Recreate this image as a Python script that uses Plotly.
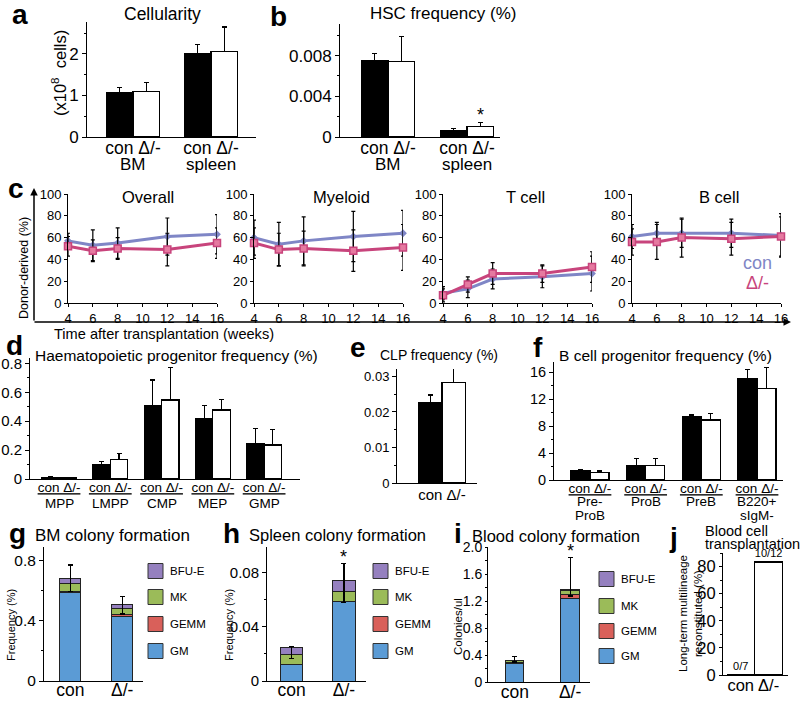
import numpy as np
import plotly.graph_objects as go

W, H = 800, 701
FONT = "Liberation Sans, Arial, sans-serif"
BLUE = "#7f86c6"
MAG = "#c8447c"

# a: cellularity (x10^8 cells)
cell_groups = ["BM", "spleen"]
cell_con = [1.07, 2.01]
cell_con_err = [0.13, 0.22]
cell_ko = [1.09, 2.05]
cell_ko_err = [0.22, 0.60]

# b: HSC frequency (%)
hsc_con = [0.0075, 0.0006]
hsc_con_err = [0.0007, 0.0002]
hsc_ko = [0.0074, 0.0010]
hsc_ko_err = [0.0025, 0.0004]

# c: donor-derived (%)
weeks = [4, 6, 8, 12, 16]
overall_con = [57, 53, 55, 61, 63]
overall_con_err = [7, 14, 14, 17, 18]
overall_ko = [52, 48, 50, 49, 55]
overall_ko_err = [9, 10, 10, 15, 14]
myeloid_con = [60, 54, 57, 61, 64]
myeloid_con_err = [16, 20, 22, 23, 21]
myeloid_ko = [55, 49, 50, 48, 51]
myeloid_ko_err = [14, 15, 16, 19, 21]
tcell_con = [9, 13, 22, 24, 27]
tcell_con_err = [6, 8, 9, 10, 16]
tcell_ko = [7, 17, 27, 27, 33]
tcell_ko_err = [6, 7, 10, 8, 14]
bcell_con = [61, 64, 64, 64, 62]
bcell_con_err = [11, 10, 13, 13, 20]
bcell_ko = [56, 56, 60, 59, 61]
bcell_ko_err = [12, 16, 18, 15, 18]
lineages = ["Overall", "Myeloid", "T cell", "B cell"]

# d: haematopoietic progenitors (%)
prog_groups = ["MPP", "LMPP", "CMP", "MEP", "GMP"]
prog_con = [0.012, 0.097, 0.505, 0.415, 0.244]
prog_con_err = [0.004, 0.023, 0.18, 0.095, 0.104]
prog_ko = [0.010, 0.136, 0.546, 0.477, 0.235]
prog_ko_err = [0.003, 0.042, 0.226, 0.073, 0.11]

# e: CLP frequency (%)
clp_con = [0.0226]
clp_con_err = [0.0022]
clp_ko = [0.0283]
clp_ko_err = [0.0040]

# f: B cell progenitors (%)
bprog_groups = ["Pre-<br>ProB", "ProB", "PreB", "B220+<br>sIgM-"]
bprog_con = [1.4, 2.2, 9.4, 15.0]
bprog_con_err = [0.15, 1.0, 0.25, 1.4]
bprog_ko = [1.15, 2.2, 8.9, 13.6]
bprog_ko_err = [0.2, 1.0, 1.0, 3.1]

# g-i: colony formation, stacked GM / GEMM / MK / BFU-E
genotypes = ["con", "Δ/-"]
colony_types = ["GM", "GEMM", "MK", "BFU-E"]
colony_colors = ["#5b9bd5", "#d9605a", "#9bbb59", "#9580bf"]
bm_gm = [0.59, 0.433]
bm_gemm = [0.005, 0.008]
bm_mk = [0.052, 0.044]
bm_bfue = [0.038, 0.022]
bm_err = [0.088, 0.055]
bm_err_lo = [0.088, 0.06]
spleen_gm = [0.0121, 0.0585]
spleen_gemm = [0.0004, 0.0005]
spleen_mk = [0.0073, 0.007]
spleen_bfue = [0.0047, 0.0081]
spleen_err = [0.0012, 0.013]
spleen_err_lo = [0.008, 0.016]
blood_gm = [0.28, 1.244]
blood_gemm = [0.015, 0.056]
blood_mk = [0.025, 0.06]
blood_bfue = [0.005, 0.005]
blood_err = [0.055, 0.485]
blood_err_lo = [0.03, 0.09]

# j: blood cell transplantation
transplant_pct = [0, 83.3]
transplant_ratio = ["0/7", "10/12"]


def X(p):
    return p / W


def Y(p):
    return 1 - p / H


fig = go.Figure()
layout = {}
annotations = []
shapes = []


def sfx(n):
    return "" if n == 1 else str(n)


def tf(size):
    return dict(size=size, color="black", family=FONT)


def set_axes(n, left, right, top, bottom, xr, yr, xkw=None, ykw=None):
    s = sfx(n)
    base = dict(showline=True, linecolor="black", linewidth=1, showgrid=False,
                zeroline=False, tickcolor="black", ticklen=4, ticks="outside",
                automargin=False, tickfont=tf(13))
    xd = dict(base, domain=[X(left), X(right)], range=xr, anchor="y" + s)
    xd.update(xkw or {})
    yd = dict(base, domain=[Y(bottom), Y(top)], range=yr, anchor="x" + s)
    yd.update(ykw or {})
    layout["xaxis" + s] = xd
    layout["yaxis" + s] = yd


def text(t, x, y, size=14, anchor="center", bold=False, color="black", angle=0):
    if bold:
        t = "<b>" + t + "</b>"
    annotations.append(dict(text=t, x=X(x), y=Y(y), xref="paper", yref="paper",
                            showarrow=False, xanchor=anchor, yanchor="middle",
                            textangle=angle, font=dict(size=size, color=color, family=FONT)))


def cat_labels(n, names, y0, size, gap):
    # group names under the "con Δ/-" tick labels, placed at the category positions
    for i, name in enumerate(names):
        for j, line in enumerate(name.split("<br>")):
            annotations.append(dict(text=line, x=i, y=Y(y0 + j * gap), xref="x" + sfx(n),
                                    yref="paper", showarrow=False, yanchor="middle",
                                    font=tf(size)))


def err(arr, lo=None):
    d = dict(type="data", array=arr, color="black", thickness=1.2, width=2.5,
             symmetric=False, arrayminus=lo if lo is not None else [0] * len(arr))
    return d


def grouped(n, con, con_e, ko, ko_e, w):
    idx = np.arange(len(con))
    s = sfx(n)
    fig.add_trace(go.Bar(x=idx - w / 2, y=con, width=w, marker_color="black",
                         marker_line=dict(color="black", width=1.2), error_y=err(con_e),
                         xaxis="x" + s, yaxis="y" + s, cliponaxis=False))
    fig.add_trace(go.Bar(x=idx + w / 2, y=ko, width=w, marker_color="white",
                         marker_line=dict(color="black", width=1.2), error_y=err(ko_e),
                         xaxis="x" + s, yaxis="y" + s, cliponaxis=False))


def stacked(n, parts, top_err, top_err_lo, w):
    s = sfx(n)
    for k, (name, vals) in enumerate(zip(colony_types, parts)):
        fig.add_trace(go.Bar(x=[0, 1], y=vals, width=w, name=name,
                             marker_color=colony_colors[k],
                             marker_line=dict(color="#222", width=1),
                             error_y=err(top_err, top_err_lo) if k == len(parts) - 1 else None,
                             xaxis="x" + s, yaxis="y" + s, cliponaxis=False))


def minor(step):
    return dict(dtick=step, ticks="outside", ticklen=2, tickcolor="black")


# ---- a ----
w_ab = 0.34
grouped(1, cell_con, cell_con_err, cell_ko, cell_ko_err, w_ab)
set_axes(1, 87, 256, 22, 137, [-0.59, 1.577], [0, 2.77],
         dict(tickvals=[0, 1], ticktext=["con Δ/-"] * 2, ticks="", ticklabelstandoff=-5,
              tickfont=tf(17.5)),
         dict(tickvals=[0, 1, 2], minor=minor(0.5), tickfont=tf(17)))
cat_labels(1, cell_groups, 164, 17, 0)

# ---- b ----
grouped(2, hsc_con, hsc_con_err, hsc_ko, hsc_ko_err, w_ab)
set_axes(2, 340, 500, 24, 137, [-0.608, 1.418], [0, 0.0111],
         dict(tickvals=[0, 1], ticktext=["con Δ/-"] * 2, ticks="", ticklabelstandoff=-5,
              tickfont=tf(17.5)),
         dict(tickvals=[0, 0.004, 0.008], ticktext=["0", "0.004", "0.008"],
              minor=minor(0.002), tickfont=tf(17)))
cat_labels(2, cell_groups, 164, 17, 0)
annotations.append(dict(text="*", x=1 + w_ab / 2, y=hsc_ko[1] + hsc_ko_err[1], xref="x2", yref="y2",
                        showarrow=False, yanchor="bottom", yshift=-4, font=tf(18)))

# ---- c ----
c_series = [
    (overall_con, overall_con_err, overall_ko, overall_ko_err),
    (myeloid_con, myeloid_con_err, myeloid_ko, myeloid_ko_err),
    (tcell_con, tcell_con_err, tcell_ko, tcell_ko_err),
    (bcell_con, bcell_con_err, bcell_ko, bcell_ko_err),
]
c_lefts = [68, 254, 443, 632]
c_title_x = [148, 341, 525, 719]
for k, (con, con_e, ko, ko_e) in enumerate(c_series):
    n = 3 + k
    s = sfx(n)
    fig.add_trace(go.Scatter(x=weeks, y=con, mode="lines+markers",
                             line=dict(color=BLUE, width=3),
                             marker=dict(symbol="diamond", size=6, color=BLUE),
                             error_y=dict(type="data", array=con_e, color="black", thickness=1.2, width=2),
                             xaxis="x" + s, yaxis="y" + s, cliponaxis=False))
    fig.add_trace(go.Scatter(x=weeks, y=ko, mode="lines+markers",
                             line=dict(color=MAG, width=3),
                             marker=dict(symbol="square", size=7, color="#e57aa0",
                                         line=dict(color=MAG, width=1.5)),
                             error_y=dict(type="data", array=ko_e, color="black", thickness=1.2, width=2),
                             xaxis="x" + s, yaxis="y" + s, cliponaxis=False))
    set_axes(n, c_lefts[k], c_lefts[k] + 149, 194, 303, [4, 16], [0, 100],
             dict(tickvals=list(range(4, 17, 2)), ticklen=3),
             dict(dtick=20, ticklen=3))
    text(lineages[k], c_title_x[k], 197, 16.5)

text("con", 757, 263, 18, color=BLUE)
text("Δ/-", 757, 283, 18, color=MAG)
annotations.append(dict(x=X(34), y=Y(188), ax=0, ay=322 - 188, xref="paper", yref="paper",
                        axref="pixel", ayref="pixel", text="", showarrow=True,
                        arrowhead=2, arrowsize=1, arrowwidth=1.5, arrowcolor="black"))
annotations.append(dict(x=X(791), y=Y(322), ax=-(791 - 33), ay=0, xref="paper", yref="paper",
                        axref="pixel", ayref="pixel", text="", showarrow=True,
                        arrowhead=2, arrowsize=1, arrowwidth=1.5, arrowcolor="black"))
text("Donor-derived (%)", 24, 268, 12.5, angle=-90)
text("Time after transplantation (weeks)", 52, 334, 14.6, anchor="left")

# ---- d ----
w_d = 0.34
grouped(7, prog_con, prog_con_err, prog_ko, prog_ko_err, w_d)
set_axes(7, 30, 300, 358, 479, [-0.566, 4.70], [0, 0.837],
         dict(tickvals=list(range(len(prog_groups))), ticktext=["<u>con Δ/-</u>"] * len(prog_groups),
              ticks="", ticklabelstandoff=-4, tickfont=tf(13.5)),
         dict(tickvals=[0, 0.2, 0.4, 0.6, 0.8], ticktext=["0", "0.2", "0.4", "0.6", "0.8"],
              minor=minor(0.1), tickfont=tf(15)))
cat_labels(7, prog_groups, 503, 13.5, 14)

# ---- e ----
grouped(8, clp_con, clp_con_err, clp_ko, clp_ko_err, w_d)
set_axes(8, 397, 477, 369, 483, [-0.652, 0.507], [0, 0.0321],
         dict(tickvals=[0], ticktext=["con Δ/-"], ticks="", ticklabelstandoff=-2, tickfont=tf(15)),
         dict(tickvals=[0, 0.01, 0.02, 0.03], ticktext=["0", "0.01", "0.02", "0.03"],
              minor=minor(0.005), tickfont=tf(13)))

# ---- f ----
grouped(9, bprog_con, bprog_con_err, bprog_ko, bprog_ko_err, w_d)
set_axes(9, 554, 783, 362, 480, [-0.646, 3.467], [0, 17.5],
         dict(tickvals=list(range(len(bprog_groups))), ticktext=["<u>con Δ/-</u>"] * len(bprog_groups),
              ticks="", ticklabelstandoff=-4, tickfont=tf(13.5)),
         dict(tickvals=[0, 4, 8, 12, 16], minor=minor(2), tickfont=tf(14.5)))
cat_labels(9, bprog_groups, 502, 13.5, 13)

# ---- g, h, i ----
stacked(10, [bm_gm, bm_gemm, bm_mk, bm_bfue], bm_err, bm_err_lo, 0.4)
set_axes(10, 44, 143, 547, 681, [-0.507, 1.4], [0, 0.893],
         dict(tickvals=[0, 1], ticktext=genotypes, ticks="", ticklabelstandoff=-7, tickfont=tf(17.5)),
         dict(tickvals=[0, 0.4, 0.8], ticktext=["0", "0.4", "0.8"], minor=minor(0.2), tickfont=tf(15.5)))

stacked(11, [spleen_gm, spleen_gemm, spleen_mk, spleen_bfue], spleen_err, spleen_err_lo, 0.43)
set_axes(11, 267, 366, 547, 681, [-0.469, 1.42], [0, 0.099],
         dict(tickvals=[0, 1], ticktext=genotypes, ticks="", ticklabelstandoff=-7, tickfont=tf(17.5)),
         dict(tickvals=[0, 0.04, 0.08], ticktext=["0", "0.04", "0.08"], minor=minor(0.02),
              tickfont=tf(15)))

stacked(12, [blood_gm, blood_gemm, blood_mk, blood_bfue], blood_err, blood_err_lo, 0.33)
set_axes(12, 488, 590, 547, 682, [-0.485, 1.36], [0, 2.0],
         dict(tickvals=[0, 1], ticktext=genotypes, ticks="", ticklabelstandoff=-6, tickfont=tf(17.5)),
         dict(tickvals=[0, 0.4, 0.8, 1.2, 1.6, 2.0], ticktext=["0", "0.4", "0.8", "1.2", "1.6", "2.0"],
              ticklen=2, minor=minor(0.2), tickfont=tf(14)))

for n, parts, e in [(11, [spleen_gm, spleen_gemm, spleen_mk, spleen_bfue], spleen_err),
                    (12, [blood_gm, blood_gemm, blood_mk, blood_bfue], blood_err)]:
    total = np.sum(parts, axis=0)
    annotations.append(dict(text="*", x=1, y=total[1] + e[1], xref="x" + sfx(n), yref="y" + sfx(n),
                            showarrow=False, yanchor="bottom", yshift=-6, font=tf(18)))

legend_y = {10: [651, 624, 597, 571], 11: [651, 624, 597, 571], 12: [656, 631, 606, 579]}
legend_x = {10: 148, 11: 373, 12: 599}
for n in (10, 11, 12):
    for k, name in enumerate(colony_types):
        yc = legend_y[n][k]
        x0 = legend_x[n]
        shapes.append(dict(type="rect", xref="paper", yref="paper",
                           x0=X(x0), x1=X(x0 + 15), y0=Y(yc + 7.5), y1=Y(yc - 7.5),
                           fillcolor=colony_colors[k], line=dict(color="#333", width=1)))
        text(name, x0 + 20, yc, 11.5, anchor="left")

# ---- j ----
fig.add_trace(go.Bar(x=[0, 1], y=transplant_pct, width=1.0, marker_color="white",
                     marker_line=dict(color="black", width=1.5), text=transplant_ratio,
                     textposition="outside", textfont=tf(11),
                     xaxis="x13", yaxis="y13", cliponaxis=False))
set_axes(13, 723, 788, 553, 675, [-0.636, 1.696], [0, 90],
         dict(tickvals=[0, 1], ticktext=genotypes, ticks="", ticklabelstandoff=-5, tickfont=tf(16.5)),
         dict(tickvals=[0, 20, 40, 60, 80], ticklen=3, minor=minor(10), tickfont=tf(16.5)))

# ---- titles, labels ----
text("Cellularity", 162, 14, 17.5)
text("HSC frequency (%)", 443, 14, 17)
text("(x10<sup>8</sup>  cells)", 59, 73, 16.5, angle=-90)
text("Haematopoietic progenitor frequency (%)", 33, 355, 15.5, anchor="left")
text("CLP frequency (%)", 378, 355, 14, anchor="left")
text("B cell progenitor frequency (%)", 557, 355, 15.5, anchor="left")
text("BM colony formation", 33, 535, 17, anchor="left")
text("Spleen colony formation", 247, 535, 16.5, anchor="left")
text("Blood colony formation", 470, 536, 16.5, anchor="left")
text("Blood cell", 703, 531, 14.5, anchor="left")
text("transplantation", 703, 544, 14.5, anchor="left")
text("Frequency (%)", 11, 625, 11, angle=-90)
text("Frequency (%)", 229, 625, 11, angle=-90)
text("Colonies/ul", 458, 627, 11.5, angle=-90)
text("Long-term multilineage<br>reconstituted (%)", 690, 614, 11.5, angle=-90)

for letter, x, y in [("a", 20, 15), ("b", 278, 16), ("c", 16, 188), ("d", 14, 345), ("e", 358, 347),
                     ("f", 538, 347), ("g", 17, 533), ("h", 232, 533), ("i", 458, 533), ("j", 673, 537)]:
    text(letter, x, y, 28, bold=True)

fig.update_layout(
    width=W, height=H, margin=dict(l=0, r=0, t=0, b=0, autoexpand=False),
    paper_bgcolor="white", plot_bgcolor="white", showlegend=False,
    barmode="stack", font=dict(family=FONT, color="black"),
    annotations=annotations, shapes=shapes, **layout,
)

# the page body has a default 8px margin; drop it so the figure sits at the window corner
fig.write_html("out.html", config={"displayModeBar": False},
               post_script="document.body.style.margin='0px';")
